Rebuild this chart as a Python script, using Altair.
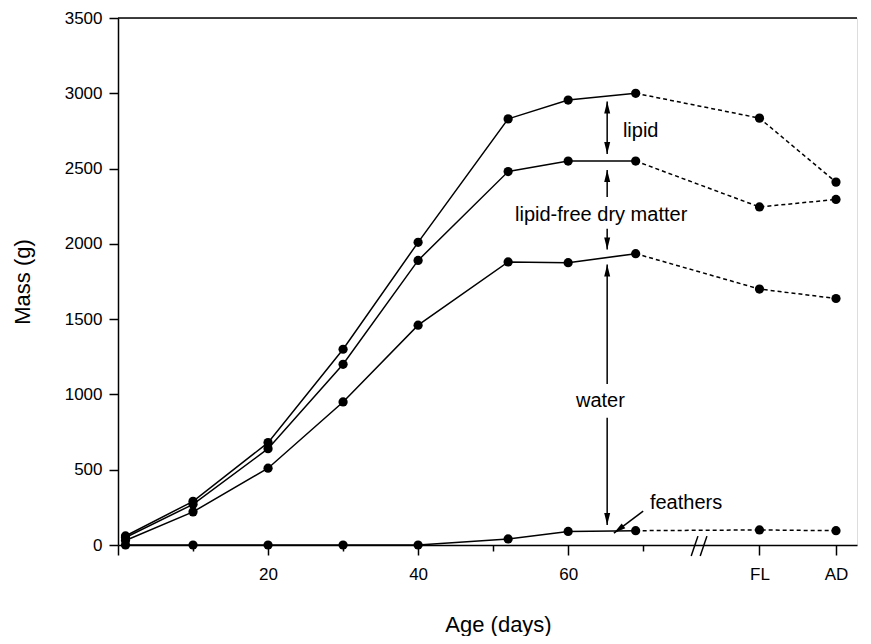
import altair as alt
import pandas as pd

# ---------------- data ----------------
days = [1, 10, 20, 30, 40, 52, 60, 69]
late_x = [85.5, 95.7]          # positions of FL and AD on the broken axis
late_lab = ["FL", "AD"]

total = [60, 290, 680, 1300, 2010, 2830, 2955, 3000, 2835, 2410]
lfdm = [50, 270, 640, 1200, 1890, 2480, 2550, 2550, 2245, 2295]
water = [30, 220, 510, 950, 1460, 1880, 1875, 1935, 1700, 1637]
feathers = [0, 0, 0, 0, 0, 40, 90, 95, 100, 95]

x_all = days + late_x
series = {"total": total, "lfdm": lfdm, "water": water, "feathers": feathers}

rows = []
for name, vals in series.items():
    for i, (x, v) in enumerate(zip(x_all, vals)):
        if i < len(days):
            rows.append({"x": x, "y": v, "s": name, "seg": "solid"})
        if i >= len(days) - 1:
            rows.append({"x": x, "y": v, "s": name + "_d", "seg": "dash"})
df = pd.DataFrame(rows)
pts = pd.DataFrame([{"x": x, "y": v, "s": n} for n, vals in series.items() for x, v in zip(x_all, vals)])

# annotation arrows (shaft from -> tip), in data units
arrow_x = 65.2
shafts = pd.DataFrame([
    {"x": arrow_x, "y": 2946, "x2": arrow_x, "y2": 2596},   # lipid
    {"x": arrow_x, "y": 2312, "x2": arrow_x, "y2": 2490},   # lfdm up
    {"x": arrow_x, "y": 2100, "x2": arrow_x, "y2": 1962},   # lfdm down
    {"x": arrow_x, "y": 1070, "x2": arrow_x, "y2": 1863},   # water up
    {"x": arrow_x, "y": 845, "x2": arrow_x, "y2": 132},     # water down
    {"x": 70.0, "y": 225, "x2": 66.1, "y2": 79},            # feathers
])
heads = pd.DataFrame([
    {"x": arrow_x, "y": 2946, "a": 0},
    {"x": arrow_x, "y": 2596, "a": 180},
    {"x": arrow_x, "y": 2490, "a": 0},
    {"x": arrow_x, "y": 1962, "a": 180},
    {"x": arrow_x, "y": 1863, "a": 0},
    {"x": arrow_x, "y": 132, "a": 180},
    {"x": 66.1, "y": 79, "a": 233},
])
labels = pd.DataFrame([
    {"x": 67.3, "y": 2748, "t": "lipid", "al": "left"},
    {"x": 64.4, "y": 2193, "t": "lipid-free dry matter", "al": "center"},
    {"x": 64.3, "y": 958, "t": "water", "al": "center"},
    {"x": 70.9, "y": 277, "t": "feathers", "al": "left"},
])
brk = pd.DataFrame([
    {"x": 76.4, "y": -73, "x2": 77.3, "y2": 59},
    {"x": 77.6, "y": -73, "x2": 78.5, "y2": 59},
])

FONT = "Liberation Sans"
W, H = 739, 527
XMAX = 98.5

xticks = [0, 10, 20, 30, 40, 50, 60, 70] + late_x
xs = alt.Scale(domain=[0, XMAX], nice=False, zero=False)
ys = alt.Scale(domain=[0, 3500], nice=False)

x_axis = alt.Axis(
    values=xticks,
    labelExpr="datum.value == 85.5 ? 'FL' : (datum.value == 95.7 ? 'AD' : ((datum.value % 20 == 0 && datum.value > 0) ? datum.label : ''))",
    tickSize={"condition": {"test": "datum.value % 20 == 0 || datum.value > 80", "value": 10}, "value": 6},
    grid=False, labelFont=FONT, labelFontSize=17, labelColor="black", labelPadding=11,
    domainColor="black", domainWidth=1.5, tickColor="black", tickWidth=1.5,
    title="Age (days)", titleFont=FONT, titleFontSize=22, titleFontWeight="normal",
    titleColor="black", titleX=380, titleY=79, titleBaseline="middle", titleAlign="center",
    labelFlush=False, labelOverlap=False,
)
y_axis = alt.Axis(
    values=list(range(0, 3501, 250)),
    labelExpr="datum.value % 500 == 0 ? datum.label : ''",
    format="d",
    tickSize={"condition": {"test": "datum.value % 500 == 0", "value": 9}, "value": 5},
    grid=False, labelFont=FONT, labelFontSize=17, labelColor="black", labelPadding=7,
    domainColor="black", domainWidth=1.5, tickColor="black", tickWidth=1.5,
    title="Mass (g)", titleFont=FONT, titleFontSize=22, titleFontWeight="normal",
    titleColor="black", titleX=-96, titleY=H / 2, titleAngle=-90, titleBaseline="middle",
    titleAlign="center", labelOverlap=False, labelFlush=False,
)

base_x = alt.X("x:Q", scale=xs, axis=x_axis)
base_y = alt.Y("y:Q", scale=ys, axis=y_axis)

solid = alt.Chart(df[df.seg == "solid"]).mark_line(color="black", strokeWidth=1.5).encode(
    x=base_x, y=base_y, detail="s:N", order="x:Q")
dash = alt.Chart(df[df.seg == "dash"]).mark_line(color="black", strokeWidth=1.5, strokeDash=[4, 3]).encode(
    x="x:Q", y="y:Q", detail="s:N", order="x:Q")
points = alt.Chart(pts).mark_point(filled=True, color="black", size=85, opacity=1).encode(x="x:Q", y="y:Q")

shaft = alt.Chart(shafts).mark_rule(color="black", strokeWidth=1.5).encode(
    x="x:Q", y="y:Q", x2="x2:Q", y2="y2:Q")
head = alt.Chart(heads).mark_point(
    shape="M0,0 L-0.5,2 L0.5,2 Z", filled=True, color="black", size=144, opacity=1
).encode(x="x:Q", y="y:Q", angle=alt.Angle("a:Q", scale=None))

txt_left = alt.Chart(labels[labels.al == "left"]).mark_text(
    font=FONT, fontSize=20, color="black", baseline="middle", align="left").encode(x="x:Q", y="y:Q", text="t:N")
txt_center = alt.Chart(labels[labels.al == "center"]).mark_text(
    font=FONT, fontSize=20, color="black", baseline="middle", align="center").encode(x="x:Q", y="y:Q", text="t:N")

breaks = alt.Chart(brk).mark_rule(color="black", strokeWidth=1.5).encode(
    x="x:Q", y="y:Q", x2="x2:Q", y2="y2:Q")

top_line = alt.Chart(pd.DataFrame({"y": [3500]})).mark_rule(color="black", strokeWidth=1.5).encode(
    y="y:Q", x=alt.value(0), x2=alt.value(W))

chart = alt.layer(
    solid, dash, points, shaft, head, txt_left, txt_center, breaks, top_line
).properties(
    width=W, height=H,
    autosize=alt.AutoSizeParams(type="none"),
    padding={"left": 110, "top": 10, "right": 6, "bottom": 91},
).configure_view(stroke=None).configure(background="white")

chart.save("out.html", embed_options={"renderer": "svg", "actions": False})
